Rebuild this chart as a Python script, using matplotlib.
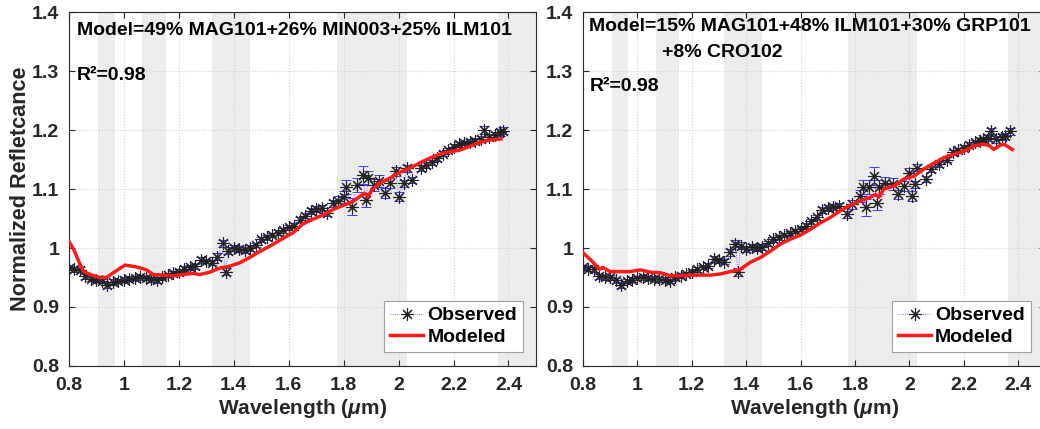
import numpy as np
import matplotlib
matplotlib.use('Agg')
import matplotlib.pyplot as plt

plt.rcParams['font.family'] = ['Liberation Sans', 'DejaVu Sans']
plt.rcParams['font.weight'] = 'bold'
plt.rcParams['mathtext.fontset'] = 'custom'
plt.rcParams['mathtext.it'] = 'Liberation Sans:italic:bold'
plt.rcParams['mathtext.rm'] = 'Liberation Sans:bold'

# band regions (shaded) ------------------------
bands = [(0.905, 0.967), (1.067, 1.153), (1.32, 1.46), (1.776, 2.03), (2.363, 2.5)]

# left panel: observed spectrum -----------------
obs1_x = [0.80, 0.82, 0.84, 0.86, 0.88, 0.90, 0.92, 0.94, 0.96, 0.98, 1.00, 1.02, 1.04, 1.06,
          1.08, 1.10, 1.12, 1.14, 1.16, 1.18, 1.20, 1.22, 1.24, 1.26, 1.28, 1.30, 1.32, 1.34,
          1.36, 1.37, 1.38, 1.40, 1.42, 1.44, 1.46, 1.48, 1.50, 1.52, 1.54, 1.56, 1.58, 1.60,
          1.62, 1.64, 1.66, 1.68, 1.70, 1.72, 1.74, 1.76, 1.78, 1.80, 1.81, 1.83, 1.85, 1.87,
          1.88, 1.89, 1.91, 1.93, 1.95, 1.97, 1.99, 2.00, 2.02, 2.03, 2.05, 2.08, 2.10, 2.12,
          2.14, 2.16, 2.18, 2.20, 2.22, 2.24, 2.26, 2.28, 2.30, 2.31, 2.33, 2.35, 2.37, 2.38]
obs1_y = [0.966, 0.964, 0.963, 0.952, 0.948, 0.946, 0.944, 0.938, 0.943, 0.944, 0.946, 0.948, 0.949, 0.950,
          0.949, 0.947, 0.945, 0.951, 0.954, 0.957, 0.960, 0.965, 0.967, 0.969, 0.980, 0.978, 0.975, 0.985,
          1.008, 0.960, 0.995, 1.000, 0.998, 0.997, 1.000, 1.005, 1.015, 1.018, 1.022, 1.026, 1.030, 1.035,
          1.038, 1.048, 1.055, 1.063, 1.066, 1.068, 1.060, 1.076, 1.080, 1.086, 1.104, 1.070, 1.107, 1.124,
          1.082, 1.118, 1.107, 1.113, 1.093, 1.110, 1.130, 1.087, 1.110, 1.135, 1.115, 1.135, 1.140, 1.145,
          1.152, 1.160, 1.166, 1.172, 1.176, 1.178, 1.180, 1.182, 1.185, 1.200, 1.189, 1.192, 1.196, 1.199]
obs1_err = [0.004, 0.004, 0.004, 0.004, 0.004, 0.004, 0.004, 0.005, 0.004, 0.004, 0.004, 0.004, 0.004, 0.004,
            0.004, 0.004, 0.004, 0.004, 0.004, 0.004, 0.004, 0.004, 0.004, 0.004, 0.005, 0.004, 0.004, 0.006,
            0.006, 0.006, 0.006, 0.005, 0.005, 0.005, 0.005, 0.004, 0.004, 0.004, 0.004, 0.004, 0.004, 0.004,
            0.004, 0.004, 0.004, 0.005, 0.005, 0.005, 0.005, 0.006, 0.008, 0.010, 0.012, 0.014, 0.012, 0.015,
            0.012, 0.012, 0.010, 0.010, 0.008, 0.008, 0.008, 0.008, 0.006, 0.006, 0.005, 0.005, 0.005, 0.005,
            0.004, 0.004, 0.004, 0.004, 0.004, 0.004, 0.004, 0.005, 0.005, 0.006, 0.005, 0.005, 0.006, 0.006]

# left panel: modeled spectrum ------------------
mod1_x = [0.80, 0.818, 0.836, 0.852, 0.876, 0.913, 0.937, 0.961, 1.004, 1.046, 1.082, 1.107, 1.143,
          1.18, 1.215, 1.252, 1.276, 1.313, 1.349, 1.385, 1.422, 1.458, 1.494, 1.531, 1.567, 1.616,
          1.652, 1.689, 1.725, 1.761, 1.797, 1.834, 1.858, 1.876, 1.888, 1.907, 1.931, 1.967, 2.003,
          2.04, 2.076, 2.112, 2.149, 2.185, 2.222, 2.258, 2.295, 2.331, 2.355, 2.373]
mod1_y = [1.011, 0.997, 0.977, 0.961, 0.955, 0.950, 0.950, 0.958, 0.971, 0.968, 0.963, 0.955, 0.954,
          0.953, 0.955, 0.957, 0.955, 0.959, 0.966, 0.969, 0.975, 0.984, 0.994, 1.003, 1.013, 1.026,
          1.041, 1.049, 1.056, 1.065, 1.072, 1.079, 1.087, 1.093, 1.087, 1.101, 1.110, 1.118, 1.128,
          1.135, 1.144, 1.152, 1.159, 1.163, 1.166, 1.172, 1.179, 1.183, 1.184, 1.185]

# right panel: observed spectrum ----------------
obs2_x = [0.80, 0.82, 0.84, 0.86, 0.88, 0.90, 0.92, 0.94, 0.96, 0.98, 1.00, 1.02, 1.04, 1.06,
          1.08, 1.10, 1.12, 1.14, 1.16, 1.18, 1.20, 1.22, 1.24, 1.26, 1.28, 1.30, 1.32, 1.34,
          1.36, 1.37, 1.38, 1.40, 1.42, 1.44, 1.46, 1.48, 1.50, 1.52, 1.54, 1.56, 1.58, 1.60,
          1.62, 1.64, 1.66, 1.68, 1.70, 1.72, 1.74, 1.77, 1.79, 1.82, 1.83, 1.84, 1.85, 1.87,
          1.88, 1.89, 1.91, 1.94, 1.96, 1.98, 2.00, 2.01, 2.02, 2.03, 2.06, 2.08, 2.11, 2.14,
          2.16, 2.18, 2.20, 2.22, 2.24, 2.26, 2.27, 2.29, 2.30, 2.32, 2.34, 2.35, 2.37]
obs2_y = [0.967, 0.965, 0.964, 0.952, 0.950, 0.950, 0.945, 0.938, 0.944, 0.946, 0.949, 0.950, 0.949, 0.948,
          0.947, 0.946, 0.944, 0.950, 0.953, 0.956, 0.959, 0.964, 0.968, 0.970, 0.981, 0.979, 0.977, 0.993,
          1.007, 0.959, 1.004, 0.998, 1.001, 1.000, 1.001, 1.008, 1.015, 1.018, 1.022, 1.025, 1.029, 1.032,
          1.038, 1.045, 1.052, 1.064, 1.068, 1.069, 1.072, 1.057, 1.074, 1.088, 1.103, 1.069, 1.103, 1.122,
          1.077, 1.103, 1.111, 1.108, 1.091, 1.105, 1.128, 1.088, 1.108, 1.136, 1.117, 1.134, 1.142, 1.150,
          1.162, 1.166, 1.170, 1.175, 1.179, 1.182, 1.184, 1.186, 1.198, 1.184, 1.188, 1.190, 1.198]
obs2_err = [0.004, 0.004, 0.004, 0.004, 0.004, 0.004, 0.004, 0.005, 0.004, 0.004, 0.004, 0.004, 0.004, 0.004,
            0.004, 0.004, 0.004, 0.004, 0.004, 0.004, 0.004, 0.004, 0.004, 0.004, 0.005, 0.004, 0.004, 0.006,
            0.006, 0.006, 0.006, 0.005, 0.005, 0.005, 0.005, 0.004, 0.004, 0.004, 0.004, 0.004, 0.004, 0.004,
            0.004, 0.004, 0.004, 0.005, 0.005, 0.005, 0.005, 0.006, 0.008, 0.010, 0.012, 0.014, 0.012, 0.015,
            0.012, 0.012, 0.010, 0.010, 0.008, 0.008, 0.008, 0.008, 0.006, 0.006, 0.005, 0.005, 0.005, 0.005,
            0.004, 0.004, 0.004, 0.004, 0.004, 0.004, 0.004, 0.005, 0.005, 0.006, 0.005, 0.005, 0.006]

# right panel: modeled spectrum -----------------
mod2_x = [0.80, 0.83, 0.861, 0.873, 0.90, 0.937, 0.974, 1.011, 1.048, 1.085, 1.121, 1.158, 1.195,
          1.232, 1.268, 1.305, 1.342, 1.379, 1.416, 1.453, 1.49, 1.527, 1.563, 1.60, 1.637, 1.674,
          1.71, 1.746, 1.784, 1.821, 1.857, 1.876, 1.888, 1.906, 1.943, 1.98, 2.017, 2.054, 2.091,
          2.127, 2.164, 2.201, 2.238, 2.268, 2.293, 2.311, 2.329, 2.348, 2.379]
mod2_y = [0.992, 0.979, 0.964, 0.967, 0.960, 0.960, 0.960, 0.963, 0.959, 0.958, 0.953, 0.953, 0.954,
          0.954, 0.954, 0.956, 0.960, 0.964, 0.976, 0.984, 0.995, 1.007, 1.015, 1.022, 1.032, 1.043,
          1.052, 1.063, 1.073, 1.080, 1.086, 1.091, 1.086, 1.100, 1.105, 1.117, 1.122, 1.134, 1.144,
          1.153, 1.159, 1.164, 1.173, 1.176, 1.174, 1.167, 1.173, 1.176, 1.167]

titles = ['Model=49% MAG101+26% MIN003+25% ILM101',
          'Model=15% MAG101+48% ILM101+30% GRP101']
r2_text = ['R\u00b2=0.98', 'R\u00b2=0.98']

xticks = [0.8, 1.0, 1.2, 1.4, 1.6, 1.8, 2.0, 2.2, 2.4]
xticklabels = ['0.8', '1', '1.2', '1.4', '1.6', '1.8', '2', '2.2', '2.4']
yticks = [0.8, 0.9, 1.0, 1.1, 1.2, 1.3, 1.4]
yticklabels = ['0.8', '0.9', '1', '1.1', '1.2', '1.3', '1.4']

txt = '#262626'

fig = plt.figure(figsize=(10.4, 4.29), dpi=100)
ax1 = fig.add_axes([0.0663, 0.1469, 0.449, 0.825])
ax2 = fig.add_axes([0.5606, 0.1469, 0.4445, 0.825])


def draw_panel(ax, ox, oy, oerr, mx, my, legend_anchor):
    for a, b in bands:
        ax.axvspan(a, b, color='#ececec', lw=0, zorder=0)
    ax.errorbar(ox, oy, yerr=oerr, fmt='none', ecolor='#3a3aff', elinewidth=0.7,
                capsize=3.5, capthick=0.7, zorder=2)
    # MATLAB-like asterisk marker (8 spokes)
    ax.plot(ox, oy, linestyle=':', color='#5050ff', lw=0.6, marker=(8, 2, 0), markersize=9,
            markerfacecolor='#222222', markeredgecolor='#222222', markeredgewidth=0.8,
            label='Observed', zorder=3)
    ax.plot(mx, my, color='#ff1a1a', lw=2.5, label='Modeled', zorder=4)

    ax.set_xlim(0.8, 2.5)
    ax.set_ylim(0.8, 1.4)
    ax.set_xticks(xticks)
    ax.set_xticklabels(xticklabels)
    ax.set_yticks(yticks)
    ax.set_yticklabels(yticklabels)
    ax.grid(True, linestyle=':', color='#d0d0d0', lw=0.8)
    ax.set_axisbelow(True)
    ax.tick_params(direction='in', top=True, right=True, labelsize=14,
                   colors=txt, length=4, width=0.8)
    ax.tick_params(axis='x', pad=8)
    ax.tick_params(axis='y', pad=7)
    for s in ax.spines.values():
        s.set_color(txt)
        s.set_linewidth(0.8)
    for lab in ax.get_xticklabels() + ax.get_yticklabels():
        lab.set_fontweight('bold')
    ax.set_xlabel(r'Wavelength ($\mu$m)', fontsize=15, fontweight='bold', color=txt, labelpad=2)

    leg = ax.legend(loc='lower right', bbox_to_anchor=legend_anchor, borderaxespad=0,
                    fancybox=False, framealpha=1, edgecolor='#a0a0a0',
                    prop={'size': 14, 'weight': 'bold'}, handlelength=1.7,
                    handletextpad=0.2, borderpad=0.3, labelspacing=0.2)
    leg.get_frame().set_linewidth(0.8)


draw_panel(ax1, obs1_x, obs1_y, obs1_err, mod1_x, mod1_y, (0.972, 0.04))
draw_panel(ax2, obs2_x, obs2_y, obs2_err, mod2_x, mod2_y, (0.968, 0.04))

ax1.set_ylabel('Normalized Refletcance', fontsize=15.6, fontweight='bold', color=txt, labelpad=1)

ax1.text(0.829, 1.3695, titles[0], fontsize=14, fontweight='bold', color='black', va='center')
ax1.text(0.829, 1.293, r2_text[0], fontsize=14, fontweight='bold', color='black', va='center')

ax2.text(0.823, 1.375, titles[1], fontsize=14, fontweight='bold', color='black', va='center')
ax2.text(1.092, 1.332, '+8% CRO102', fontsize=14, fontweight='bold', color='black', va='center')
ax2.text(0.823, 1.273, r2_text[1], fontsize=14, fontweight='bold', color='black', va='center')

fig.savefig('out.png', dpi=100, facecolor='white')
